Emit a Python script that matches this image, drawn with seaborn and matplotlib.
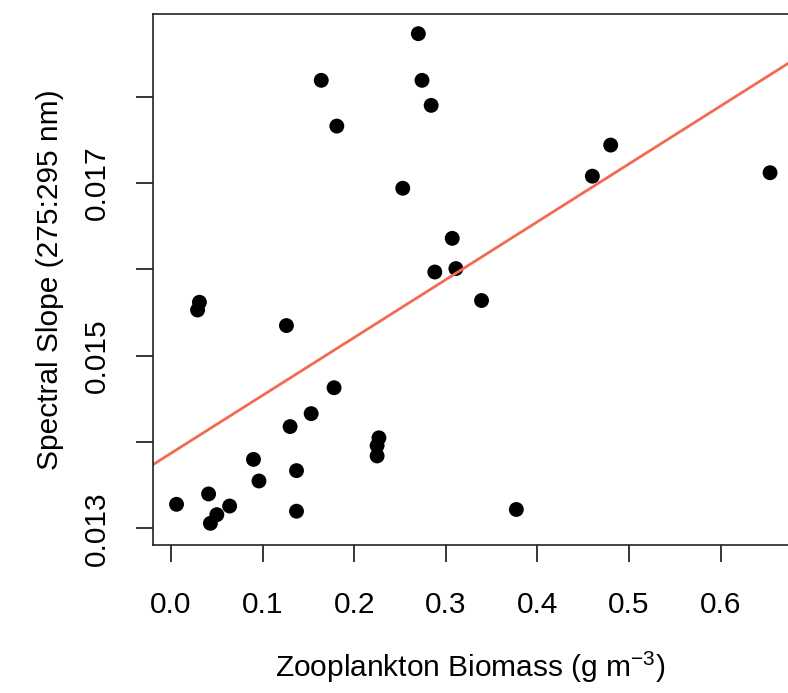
import numpy as np
import pandas as pd
import seaborn as sns
import matplotlib.pyplot as plt

# biomass (g m-3) and spectral slope S275:295
biomass = [0.270, 0.164, 0.274, 0.284, 0.181, 0.253, 0.307, 0.288, 0.311,
           0.480, 0.460, 0.654, 0.339, 0.377,
           0.031, 0.029, 0.126, 0.178, 0.153, 0.130, 0.227, 0.225, 0.225,
           0.090, 0.137, 0.096, 0.041, 0.006, 0.064, 0.050, 0.043, 0.137]
slope = [0.01873, 0.01819, 0.01819, 0.01790, 0.01766, 0.01694, 0.01636, 0.01597, 0.01601,
         0.01744, 0.01708, 0.01712, 0.01564, 0.01322,
         0.01562, 0.01553, 0.01535, 0.01463, 0.01433, 0.01418, 0.01405, 0.01396, 0.01384,
         0.01380, 0.01367, 0.01355, 0.01340, 0.01328, 0.01326, 0.01316, 0.01306, 0.01320]

yticks = [0.013, 0.014, 0.015, 0.016, 0.017, 0.018]
ytick_labels = ["0.013", "", "0.015", "", "0.017", ""]
xticks = [0.0, 0.1, 0.2, 0.3, 0.4, 0.5, 0.6]

df = pd.DataFrame({"biomass": biomass, "slope": slope})

sns.set_style("ticks")
plt.rcParams['font.family'] = ['Liberation Sans', 'DejaVu Sans']
plt.rcParams['mathtext.fontset'] = 'custom'
plt.rcParams['mathtext.rm'] = 'Liberation Sans'
plt.rcParams['mathtext.it'] = 'Liberation Sans'

fig = plt.figure(figsize=(7.88, 6.93), dpi=100)
ax = fig.add_axes([0.1938, 0.2136, 0.8062, 0.7662])

ax.set_xlim(-0.02, 0.6736)
ax.set_ylim(0.012809, 0.018958)

sns.regplot(data=df, x="biomass", y="slope", ax=ax, ci=None, truncate=False,
            scatter_kws=dict(color="black", s=115, edgecolor="none", alpha=1),
            line_kws=dict(color="#F26B50", lw=2.0))

ax.set_xticks(xticks)
ax.set_xticklabels([f"{t:.1f}" for t in xticks])
ax.set_yticks(yticks)
ax.set_yticklabels(ytick_labels, rotation=90, va="center")

ax.tick_params(axis="x", length=12, width=1.1, pad=21, labelsize=21.5, colors="black")
ax.tick_params(axis="y", length=12, width=1.1, pad=18, labelsize=21.5, colors="black")

ax.set_xlabel("Zooplankton Biomass (g m$^{-3}$)", fontsize=21.5, labelpad=22, color="black")
ax.set_ylabel("Spectral Slope (275:295 nm)", fontsize=21.5, labelpad=14, color="black")

for s in ["left", "bottom", "top"]:
    ax.spines[s].set_linewidth(1.2)
    ax.spines[s].set_color("#222222")
ax.spines["right"].set_visible(False)

fig.savefig("out.png", dpi=100)
